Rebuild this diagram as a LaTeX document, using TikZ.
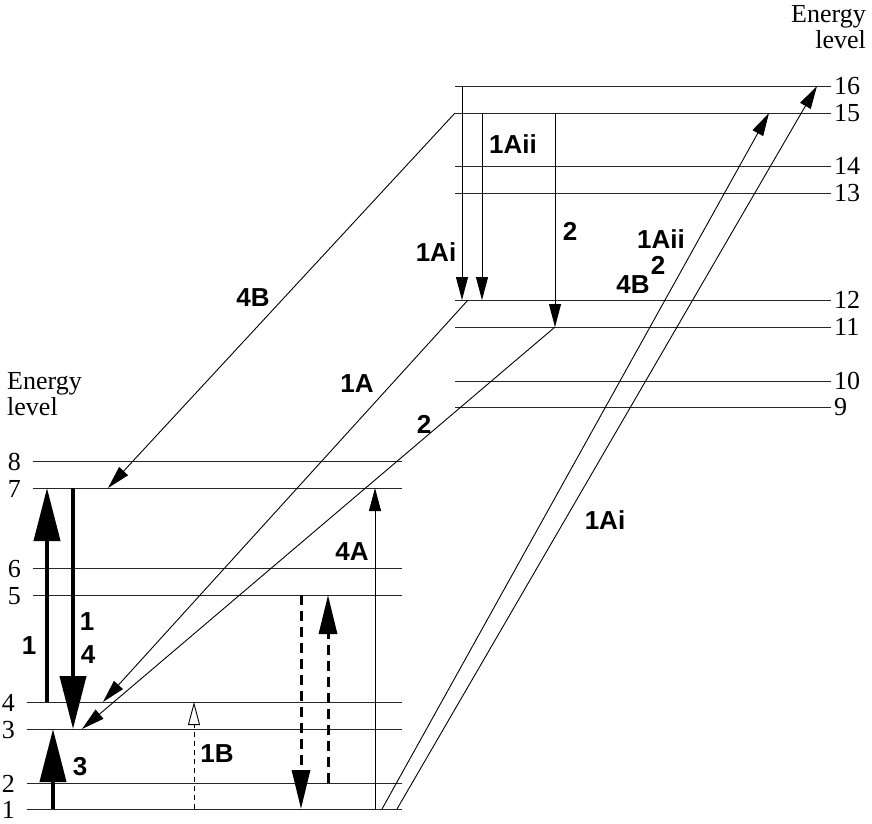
\documentclass[tikz,border=0pt]{standalone}
\usepackage{fontspec}
\setmainfont{Liberation Serif}
\newfontfamily\labfont{Liberation Sans}
\usetikzlibrary{arrows.meta}

\begin{document}
\begin{tikzpicture}[x=1pt,y=-1pt,
    lvl/.style={line width=0.9pt,black!85},
    num/.style={inner sep=0,font=\fontsize{26}{26}\selectfont},
    lab/.style={inner sep=0,font=\labfont\bfseries\fontsize{26}{27}\selectfont},
    thinarr/.style={line width=0.9pt,-{Triangle[length=23pt,width=12pt]}},
    thickarr/.style={line width=4pt,-{Triangle[length=53pt,width=26pt]}},
    dasharr/.style={line width=3pt,dash pattern=on 10pt off 6pt,-{Triangle[length=39pt,width=18pt]}}]
    \useasboundingbox (0,0) rectangle (872,823);

    %Energieniveaus links
    \foreach \n/\y/\x in {1/809/27,2/783/27,3/729/27,4/702/27,5/595/33,6/568/33,7/488/33,8/461/33}{
        \draw[lvl] (\x,\y) -- (402,\y);
        \node[num,anchor=east] (n\n) at (\x-12,\y+1) {\n};
    }
    %Energieniveaus rechts
    \foreach \n/\y in {9/407,10/381,11/327,12/300,13/193,14/166,15/113,16/86}{
        \draw[lvl] (455,\y) -- (831,\y);
        \node[num,anchor=west] (n\n) at (834,\y) {\n};
    }
    \node[num,align=right,anchor=north east] (eR) at (866,5) {Energy\\level};
    \node[num,align=left,anchor=north west] (eL) at (7,372) {Energy\\level};

    %links
    \draw[thickarr] (47,702) -- (47,488);
    \draw[thickarr] (73,488) -- (73,729);
    \draw[thickarr] (53,809) -- (53,729);
    \draw[line width=0.9pt,dash pattern=on 5pt off 4pt,-{Triangle[open,length=23pt,width=12pt]}] (194,809) -- (194,702);
    \draw[dasharr] (301,595) -- (301,809);
    \draw[dasharr] (328,783) -- (328,595);
    \draw[thinarr] (375,809) -- (375,488);

    %rechts oben
    \draw[thinarr] (462,86) -- (462,300);
    \draw[thinarr] (482,113) -- (482,300);
    \draw[thinarr] (555,113) -- (555,327);

    %Diagonalen
    \draw[thinarr] (455,113) -- (108,488);
    \draw[thinarr] (468,300) -- (103,702);
    \draw[thinarr] (555,327) -- (82,729);
    \draw[thinarr] (382,809) -- (769,113);
    \draw[thinarr] (397,809) -- (817,86);

    %Beschriftung
    \node[lab] (l1) at (29,646) {1};
    \node[lab] (l14a) at (87,622) {1};
    \node[lab] (l14b) at (88,655) {4};
    \node[lab] (l3) at (80,767) {3};
    \node[lab] (l1B) at (217,754) {1B};
    \node[lab] (l4A) at (352,552) {4A};
    \node[lab] (l4Bl) at (253,298) {4B};
    \node[lab] (l1A) at (357,384) {1A};
    \node[lab] (l2m) at (424,424) {2};
    \node[lab] (l1Ai) at (605,520) {1Ai};
    \node[lab] (l1Aio) at (436,252) {1Ai};
    \node[lab] (l1Aiio) at (513,144) {1Aii};
    \node[lab] (l2o) at (570,231) {2};
    \node[lab] (l1Aiir) at (661,239) {1Aii};
    \node[lab] (l2r) at (658,265) {2};
    \node[lab] (l4Br) at (633,285) {4B};
\end{tikzpicture}
\end{document}
